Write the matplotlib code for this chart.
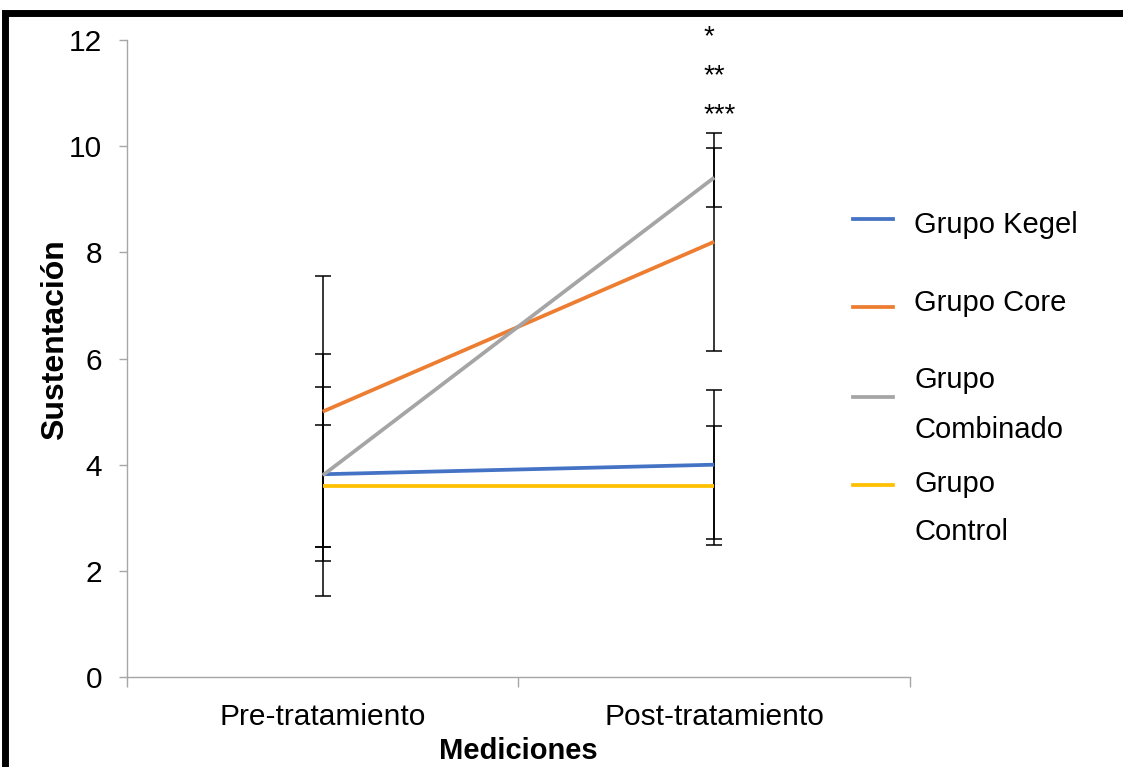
import matplotlib
matplotlib.use("Agg")
import matplotlib.pyplot as plt
from matplotlib.patches import Rectangle
from matplotlib.lines import Line2D

plt.rcParams['font.family'] = ['Liberation Sans', 'DejaVu Sans']

MEDICIONES = ["Pre-tratamiento", "Post-tratamiento"]
GRUPOS = ["Grupo Kegel", "Grupo Core", "Grupo\nCombinado", "Grupo\nControl"]
COLORES = ["#4472C4", "#ED7D31", "#A5A5A5", "#FFC000"]

kegel = [3.82, 4.0]
core = [5.0, 8.2]
combinado = [3.8, 9.41]
control = [3.6, 3.6]

kegel_sd = [1.64, 1.4]
core_sd = [2.55, 2.05]
combinado_sd = [2.28, 0.56]
control_sd = [1.15, 1.12]

MEDIAS = [kegel, core, combinado, control]
DESV = [kegel_sd, core_sd, combinado_sd, control_sd]

SIGNIF = ["*", "**", "***"]
SIGNIF_Y = [12.05, 11.31, 10.58]

fig = plt.figure(figsize=(11.23, 7.67), dpi=100)
ax = fig.add_axes([0.1131, 0.1173, 0.6972, 0.8305])

x = [0, 1]
for medias, sd, color in zip(MEDIAS, DESV, COLORES):
    ax.errorbar(x, medias, yerr=sd, fmt="none", ecolor="black",
                elinewidth=1.1, capsize=5.5, capthick=1.1, zorder=2)
for medias, color in zip(MEDIAS, COLORES):
    ax.plot(x, medias, color=color, linewidth=2.7, zorder=3,
            solid_capstyle="butt")

for s, y in zip(SIGNIF, SIGNIF_Y):
    ax.annotate(s, xy=(1, y), xytext=(-8, 0), textcoords="offset points",
                ha="left", va="center", fontsize=20, annotation_clip=False)

ax.set_xlim(-0.5, 1.5)
ax.set_ylim(0, 12)
ax.set_yticks(range(0, 13, 2))
ax.tick_params(axis="y", labelsize=21.5, length=6, width=1, color="#A6A6A6",
               pad=12, labelcolor="black")

ax.set_xticks([-0.5, 0.5, 1.5])
ax.set_xticklabels([])
ax.tick_params(axis="x", which="major", length=7.5, width=1, color="#A6A6A6")
ax.set_xticks(x, minor=True)
ax.set_xticklabels(MEDICIONES, minor=True)
ax.tick_params(axis="x", which="minor", length=0, labelsize=21.5, pad=19)

for side in ["top", "right"]:
    ax.spines[side].set_visible(False)
for side in ["left", "bottom"]:
    ax.spines[side].set_color("#A6A6A6")
    ax.spines[side].set_linewidth(1)

ax.set_xlabel("Mediciones", fontsize=21, fontweight="bold", labelpad=4)
fig.text(55 / 1123, 1 - 340 / 767, "Sustentación", rotation=90, fontsize=23,
         fontweight="bold", ha="center", va="center")

# leyenda dibujada a mano
handle_y = [219, 307, 397, 485]
text_y = [[225], [303], [380, 430], [484, 532]]
W, H = 1123, 767
for label, color, hy, ty in zip(GRUPOS, COLORES, handle_y, text_y):
    fig.add_artist(Line2D([853 / W, 893 / W], [1 - hy / H, 1 - hy / H],
                          color=color, linewidth=2.7))
    for line, yy in zip(label.split("\n"), ty):
        fig.text(914 / W, 1 - yy / H, line, fontsize=21, ha="left", va="center")

fig.add_artist(Rectangle((5 / W, -0.1), 1.2, 1.1 - 12.5 / H, fill=False,
                         edgecolor="black", linewidth=5,
                         transform=fig.transFigure))

fig.savefig("out.png", dpi=100)
